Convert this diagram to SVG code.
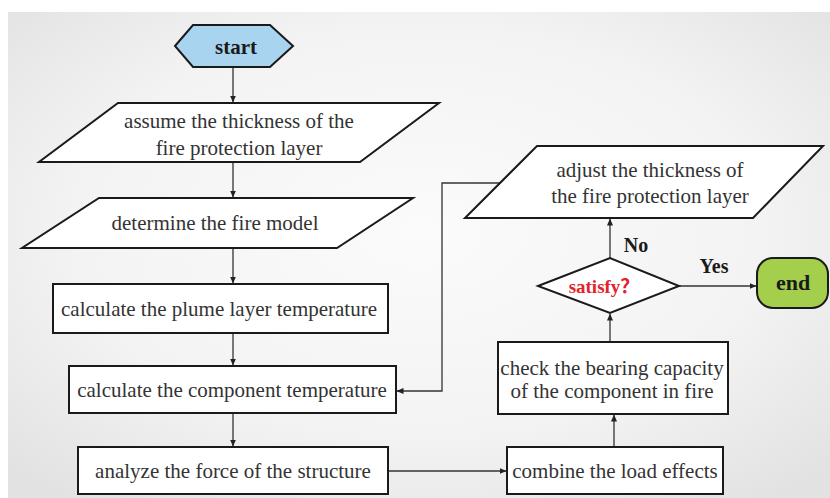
<svg xmlns="http://www.w3.org/2000/svg" width="830" height="498" viewBox="0 0 830 498">
<defs>
<radialGradient id="bg" cx="50%" cy="45%" r="70%">
<stop offset="0" stop-color="#fbfbfb"/>
<stop offset="0.6" stop-color="#f3f3f3"/>
<stop offset="1" stop-color="#e2e2e2"/>
</radialGradient>
<marker id="ah" markerWidth="7" markerHeight="6" refX="6.5" refY="3" orient="auto" markerUnits="userSpaceOnUse">
<path d="M0,0 L7,3 L0,6 Z" fill="#222"/>
</marker>
<style>
.sh{fill:#fff;stroke:#1a1a1a;stroke-width:2}
.t{font-family:"Liberation Serif","Times New Roman",serif;font-size:21px;fill:#333;text-anchor:middle}
.b{font-family:"Liberation Serif","Times New Roman",serif;font-weight:bold;fill:#1a1a1a;text-anchor:middle}
.red{fill:#e3232c}
.cjk{font-family:"Noto Sans CJK SC","Noto Sans CJK JP",sans-serif}
.c{fill:none;stroke:#333;stroke-width:1.3;marker-end:url(#ah)}
</style>
</defs>
<rect x="0" y="0" width="830" height="498" fill="#fff"/>
<rect x="8" y="12" width="822" height="486" fill="url(#bg)"/>

<g id="connectors">
<path class="c" d="M233,67 V102"/>
<path class="c" d="M233,162 V197"/>
<path class="c" d="M233,248 V283"/>
<path class="c" d="M233,333 V365"/>
<path class="c" d="M233,413 V446"/>
<path class="c" d="M388,471 H506"/>
<path class="c" d="M614,447 V415"/>
<path class="c" d="M610,342 V314"/>
<path class="c" d="M610,258 V219"/>
<path class="c" d="M679,286 H756"/>
<path class="c" d="M500,183 H442 V391 H397"/>
</g>

<g id="start">
<polygon points="175,46 193,25 270,25 293,46 270,67 193,67" fill="#a9d4ef" stroke="#1a1a1a" stroke-width="2"/>
<text class="b" x="236" y="54" font-size="21">start</text>
</g>

<g id="assume">
<polygon class="sh" points="118,103 439,103 360,162 39,162"/>
<text class="t" x="239" y="128">assume the thickness of the</text>
<text class="t" x="239" y="155">fire protection layer</text>
</g>

<g id="determine">
<polygon class="sh" points="99,198 413,198 337,248 22,248"/>
<text class="t" x="215" y="230">determine the fire model</text>
</g>

<g id="plume">
<rect class="sh" x="53" y="284" width="335" height="49"/>
<text class="t" x="219" y="316">calculate the plume layer temperature</text>
</g>

<g id="component">
<rect class="sh" x="69" y="366" width="327" height="47"/>
<text class="t" x="232" y="397">calculate the component temperature</text>
</g>

<g id="analyze">
<rect class="sh" x="78" y="447" width="310" height="47"/>
<text class="t" x="233" y="478">analyze the force of the structure</text>
</g>

<g id="combine">
<rect class="sh" x="507" y="447" width="216" height="47"/>
<text class="t" x="615" y="478">combine the load effects</text>
</g>

<g id="check">
<rect class="sh" x="498" y="342" width="230" height="72"/>
<text class="t" x="612" y="375">check the bearing capacity</text>
<text class="t" x="612" y="398">of the component in fire</text>
</g>

<g id="satisfy">
<polygon class="sh" points="538,286 610,258 679,286 610,313"/>
<text class="b red" x="604" y="293" font-size="19">satisfy<tspan class="cjk">？</tspan></text>
</g>

<g id="adjust">
<polygon class="sh" points="537,146 823,146 753,218 465,218"/>
<text class="t" x="650" y="177">adjust the thickness of</text>
<text class="t" x="650" y="203">the fire protection layer</text>
</g>

<g id="end">
<rect x="757" y="258" width="71" height="50" rx="16" ry="16" fill="#a3cf4c" stroke="#1a1a1a" stroke-width="2"/>
<text class="b" x="793" y="290" font-size="22">end</text>
</g>

<g id="labels">
<text class="b" x="636" y="252" font-size="20">No</text>
<text class="b" x="714" y="273" font-size="20">Yes</text>
</g>
</svg>
